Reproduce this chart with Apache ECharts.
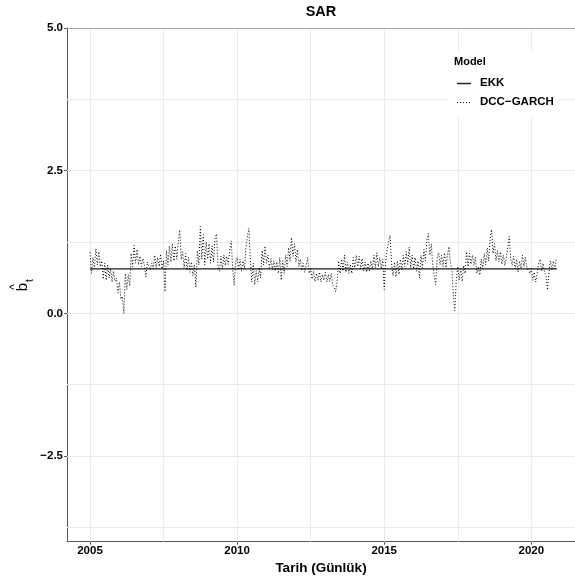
<!DOCTYPE html>
<html>
<head>
<meta charset="utf-8">
<script src="https://cdn.jsdelivr.net/npm/echarts@6/dist/echarts.min.js"></script>
<style>
html,body{margin:0;padding:0;background:#fff;}
#chart{width:575px;height:581px;}
</style>
</head>
<body>
<div id="chart"></div>
<script>
// ---- data ----
const chartTitle = 'SAR';
const xAxisTitle = 'Tarih (Günlük)';
const seriesNames = ['EKK', 'DCC\u2212GARCH'];
const legendTitle = 'Model';

const xTickValues = [2005, 2010, 2015, 2020];
const xMinorGrid = [2007.5, 2012.5, 2017.5];
const yTickValues = [-2.5, 0, 2.5, 5];
const yMinorGrid = [-3.75, -1.25, 1.25, 3.75];

// EKK: constant estimate
const ekkValue = 0.78;
const ekkStart = 2005.0;
const ekkEnd = 2020.87;

// DCC-GARCH: time-varying estimate (sampled every 0.05 year from 2005.0)
const dccStart = 2005.0;
const dccStep = 0.05;
const dccValues = [
  // 2005
  1.07,0.70,0.98,0.78,1.13,0.85,1.08,0.82,0.92,0.60,0.88,0.58,0.85,0.62,0.78,0.55,0.74,0.56,0.62,0.36,
  // 2006
  0.55,0.25,0.30,0.00,0.70,0.42,0.68,0.48,1.05,0.82,1.19,0.88,1.12,0.85,1.00,0.82,0.96,0.84,0.64,0.90,
  // 2007
  0.92,0.76,0.88,0.78,1.02,0.80,0.98,0.82,1.04,0.78,0.92,0.38,1.10,0.85,1.18,0.90,1.22,0.92,1.18,0.95,
  // 2008
  1.25,1.46,0.95,1.08,0.80,1.05,0.75,0.98,0.72,0.90,0.66,0.85,0.46,1.10,0.85,1.52,0.95,1.38,0.85,1.25,
  // 2009
  0.95,1.22,0.88,1.18,0.90,1.32,1.39,0.85,0.74,1.00,0.78,1.02,0.84,1.00,0.86,1.10,1.27,0.80,0.49,0.90,
  // 2010
  0.98,0.76,0.95,0.74,0.92,0.78,1.15,1.35,1.49,0.95,0.55,0.88,0.50,0.75,0.55,0.80,0.62,1.10,0.85,1.18,
  // 2011
  0.88,1.02,0.80,0.96,0.76,0.92,0.74,0.90,0.70,0.98,0.58,0.92,0.70,1.02,0.82,1.15,0.92,1.33,1.00,1.22,
  // 2012
  0.90,1.12,0.82,0.95,0.75,0.88,0.72,0.84,0.98,0.70,0.78,0.60,0.74,0.56,0.70,0.58,0.72,0.55,0.68,0.58,
  // 2013
  0.72,0.55,0.68,0.56,0.70,0.50,0.46,0.38,0.55,0.92,0.70,0.95,0.74,1.02,0.72,0.90,0.70,0.85,0.70,0.98,
  // 2014
  0.80,1.02,0.82,1.00,0.78,0.96,0.74,0.90,0.72,0.88,0.74,0.92,0.78,1.02,0.80,1.06,0.82,0.98,0.78,0.95,
  // 2015
  0.42,0.92,1.12,1.25,1.37,0.88,0.66,0.90,0.64,0.92,0.68,0.95,0.76,1.02,0.82,1.08,0.86,1.16,0.80,1.02,
  // 2016
  0.78,0.98,0.74,0.92,0.62,1.02,0.80,1.12,0.92,1.28,1.40,1.02,1.22,0.85,0.66,0.50,0.95,1.06,0.85,1.02,
  // 2017
  0.82,1.06,0.80,1.02,1.17,0.88,0.78,0.30,0.05,0.58,0.82,0.58,0.78,0.56,0.84,0.70,1.08,0.82,1.05,0.86,
  // 2018
  1.02,0.84,0.98,0.70,0.82,0.67,0.95,0.78,1.05,0.85,1.15,0.92,1.30,1.47,1.05,1.22,0.92,1.10,0.90,1.08,
  // 2019
  0.86,1.02,0.84,0.98,1.15,1.35,0.95,0.84,1.00,0.78,0.95,0.72,0.92,0.78,1.02,0.82,0.98,0.80,0.82,0.70,
  // 2020
  0.78,0.58,0.72,0.55,0.70,0.88,0.95,0.74,0.88,0.72,0.65,0.41,0.72,0.92,0.76,0.92,0.78,0.95
];

// ---- layout ----
const FONT = "'Liberation Sans', Arial, Helvetica, sans-serif";
const gridLeft = 67, gridTop = 28, gridWidth = 508, gridHeight = 513.7;
const pxPerYear = 29.42;
const xMin = 2005 - (90 - gridLeft) / pxPerYear;
const xMax = xMin + gridWidth / pxPerYear;

const dccData = dccValues.map((v, i) => [dccStart + i * dccStep, v]);
const ekkData = [[ekkStart, ekkValue], [ekkEnd, ekkValue]];

const gridMarks = [];
xTickValues.concat(xMinorGrid).forEach(v => gridMarks.push({xAxis: v, lineStyle: {color: '#ebebeb', width: 1, type: 'solid'}}));
yTickValues.concat(yMinorGrid).forEach(v => gridMarks.push({yAxis: v, lineStyle: {color: v === 5 ? '#a8a8a8' : '#ebebeb', width: 1, type: 'solid'}}));

const fmt = v => (Math.round(v * 10) / 10).toFixed(1).replace('-', '\u2212');

const EKK_STYLE = {color: '#1a1a1a', width: 1.4};
const DCC_STYLE = {color: '#000', width: 1, dash: [1, 2]};

const chart = echarts.init(document.getElementById('chart'), null, {renderer: 'canvas'});
chart.setOption({
  animation: false,
  backgroundColor: '#ffffff',
  textStyle: {fontFamily: FONT},
  grid: {left: gridLeft, top: gridTop, width: gridWidth, height: gridHeight, containLabel: false},
  xAxis: {
    type: 'value', min: xMin, max: xMax, z: 4,
    name: xAxisTitle, nameLocation: 'middle', nameGap: 18,
    nameTextStyle: {fontFamily: FONT, fontWeight: 'bold', fontSize: 13.5, color: '#000'},
    axisLine: {show: true, onZero: false, lineStyle: {color: '#555', width: 1}},
    axisTick: {show: true, length: 3, customValues: xTickValues, lineStyle: {color: '#555'}},
    axisLabel: {show: true, customValues: xTickValues, margin: 3, fontFamily: FONT, fontWeight: 'bold', fontSize: 11.5, color: '#000', formatter: v => String(Math.round(v))},
    splitLine: {show: false}
  },
  yAxis: {
    type: 'value', min: -4, max: 5, z: 4,
    axisLine: {show: true, onZero: false, lineStyle: {color: '#555', width: 1}},
    axisTick: {show: true, length: 3, customValues: yTickValues, lineStyle: {color: '#555'}},
    axisLabel: {show: true, customValues: yTickValues, margin: 4, fontFamily: FONT, fontWeight: 'bold', fontSize: 11.5, color: '#000', formatter: fmt},
    splitLine: {show: false}
  },
  graphic: [
    {type: 'text', z: 100, x: 321, y: 12, style: {text: chartTitle, align: 'center', verticalAlign: 'middle', font: 'bold 14.5px ' + FONT, fill: '#000'}},
    // legend box
    {type: 'rect', z: 50, shape: {x: 447, y: 52, width: 111, height: 65}, style: {fill: '#ffffff'}},
    {type: 'text', z: 100, x: 454, y: 62, style: {text: legendTitle, align: 'left', verticalAlign: 'middle', font: 'bold 11px ' + FONT, fill: '#000'}},
    {type: 'line', z: 100, shape: {x1: 457, y1: 83.5, x2: 471, y2: 83.5}, style: {stroke: EKK_STYLE.color, lineWidth: EKK_STYLE.width}},
    {type: 'text', z: 100, x: 480, y: 83, style: {text: seriesNames[0], align: 'left', verticalAlign: 'middle', font: 'bold 11.5px ' + FONT, fill: '#000'}},
    {type: 'line', z: 100, shape: {x1: 457, y1: 102.5, x2: 471, y2: 102.5}, style: {stroke: DCC_STYLE.color, lineWidth: DCC_STYLE.width, lineDash: DCC_STYLE.dash}},
    {type: 'text', z: 100, x: 480, y: 102, style: {text: seriesNames[1], align: 'left', verticalAlign: 'middle', font: 'bold 11.5px ' + FONT, fill: '#000'}},
    // y axis title: b-hat subscript t (rotated)
    {type: 'group', x: 23, y: 287, rotation: Math.PI / 2, z: 100, children: [
      {type: 'text', x: 0, y: 0, style: {text: 'b', align: 'center', verticalAlign: 'middle', font: '15px ' + FONT, fill: '#000'}},
      {type: 'text', x: 0, y: -8, style: {text: '^', align: 'center', verticalAlign: 'middle', font: '12px ' + FONT, fill: '#000'}},
      {type: 'text', x: 6.5, y: 7, style: {text: 't', align: 'center', verticalAlign: 'middle', font: '10.5px ' + FONT, fill: '#000'}}
    ]}
  ],
  series: [
    {
      name: '_grid', type: 'line', data: [], silent: true, z: 1,
      markLine: {silent: true, symbol: ['none', 'none'], label: {show: false}, animation: false, data: gridMarks}
    },
    {
      name: seriesNames[0], type: 'line', data: ekkData, showSymbol: false, symbol: 'none', z: 5,
      lineStyle: {color: EKK_STYLE.color, width: EKK_STYLE.width, type: 'solid'}
    },
    {
      name: seriesNames[1], type: 'line', data: dccData, showSymbol: false, symbol: 'none', z: 6,
      lineStyle: {color: DCC_STYLE.color, width: DCC_STYLE.width, type: DCC_STYLE.dash}
    }
  ]
});
</script>
</body>
</html>
